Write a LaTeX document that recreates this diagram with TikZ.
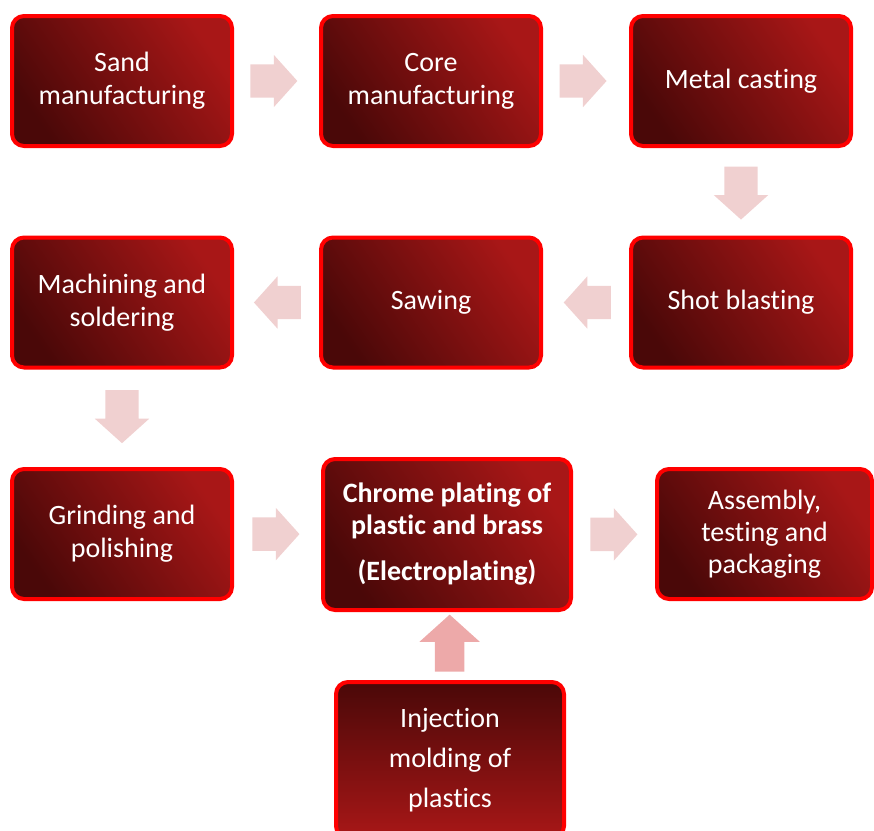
\documentclass[tikz,border=0pt]{standalone}
\usepackage{fontspec}
\setmainfont{Carlito}[Ligatures=NoCommon]
\usetikzlibrary{shapes.arrows,calc}

\definecolor{boxdark}{HTML}{4A0808}
\definecolor{boxlight}{HTML}{A81717}
\definecolor{arrowpale}{HTML}{F0D0D0}
\definecolor{arrowpink}{HTML}{EDA9A9}

\begin{document}
\begin{tikzpicture}[x=1pt,y=-1pt,
    stepbox/.style={rectangle, rounded corners=12pt, draw=red, line width=4pt,
        top color=boxlight, bottom color=boxdark, shading angle=-55,
        minimum width=220pt, minimum height=130pt, inner sep=0pt,
        align=center, text=white, font=\fontsize{28}{33}\selectfont},
    flow/.style={single arrow, draw=none, fill=arrowpale, inner xsep=0pt, inner ysep=16.5pt,
        minimum height=47pt, single arrow head extend=9.5pt,
        single arrow tip angle=96, anchor=tail},
    flowv/.style={flow, minimum height=53pt, single arrow head extend=10.5pt}]

    \path[use as bounding box, clip] (0,0) rectangle (874,830);

    \node[stepbox] (sand) at (122,81) {Sand\\manufacturing};
    \node[stepbox] (core) at (431,81) {Core\\manufacturing};
    \node[stepbox] (metal) at (741,81) {Metal casting};

    \node[stepbox] (mach) at (122,302.5) {Machining and\\soldering};
    \node[stepbox] (saw) at (431,302.5) {Sawing};
    \node[stepbox] (shot) at (741,302.5) {Shot blasting};

    \node[stepbox] (grind) at (122,534) {Grinding and\\polishing};
    \node[stepbox, minimum width=248pt, minimum height=151pt, font=\fontsize{28}{32}\selectfont\bfseries]
        (chrome) at (447,534.5) {Chrome plating of\\plastic and brass\\[14pt](Electroplating)};
    \node[stepbox, minimum width=215pt, font=\fontsize{28}{32}\selectfont] (assy) at (764.5,534) {Assembly,\\testing and\\packaging};

    \node[stepbox, minimum width=228pt, minimum height=156pt, shading angle=0,
        top color=boxdark, bottom color=boxlight, font=\fontsize{28}{40}\selectfont]
        (inject) at (450,760) {Injection\\molding of\\plastics};

    % block arrows between the steps
    \node[flow] (a1) at ($(sand.east)!0.19!(core.west)$) {};
    \node[flow] (a2) at ($(core.east)!0.19!(metal.west)$) {};
    \node[flowv, rotate=-90] (a3) at ($(metal.south)!0.21!(shot.north)$) {};
    \node[flow, rotate=180] (a4) at ($(shot.west)!0.21!(saw.east)$) {};
    \node[flow, rotate=180] (a5) at ($(saw.west)!0.21!(mach.east)$) {};
    \node[flowv, rotate=-90] (a6) at ($(mach.south)!0.21!(grind.north)$) {};
    \node[flow] (a7) at ($(grind.east)!0.21!(chrome.west)$) {};
    \node[flow] (a8) at ($(chrome.east)!0.21!(assy.west)$) {};
    \node[flowv, rotate=90, fill=arrowpink, inner ysep=14.5pt, minimum height=57pt,
        single arrow head extend=15.5pt] (a9) at ($(inject.north)!0.12!(chrome.south)$) {};

\end{tikzpicture}
\end{document}
